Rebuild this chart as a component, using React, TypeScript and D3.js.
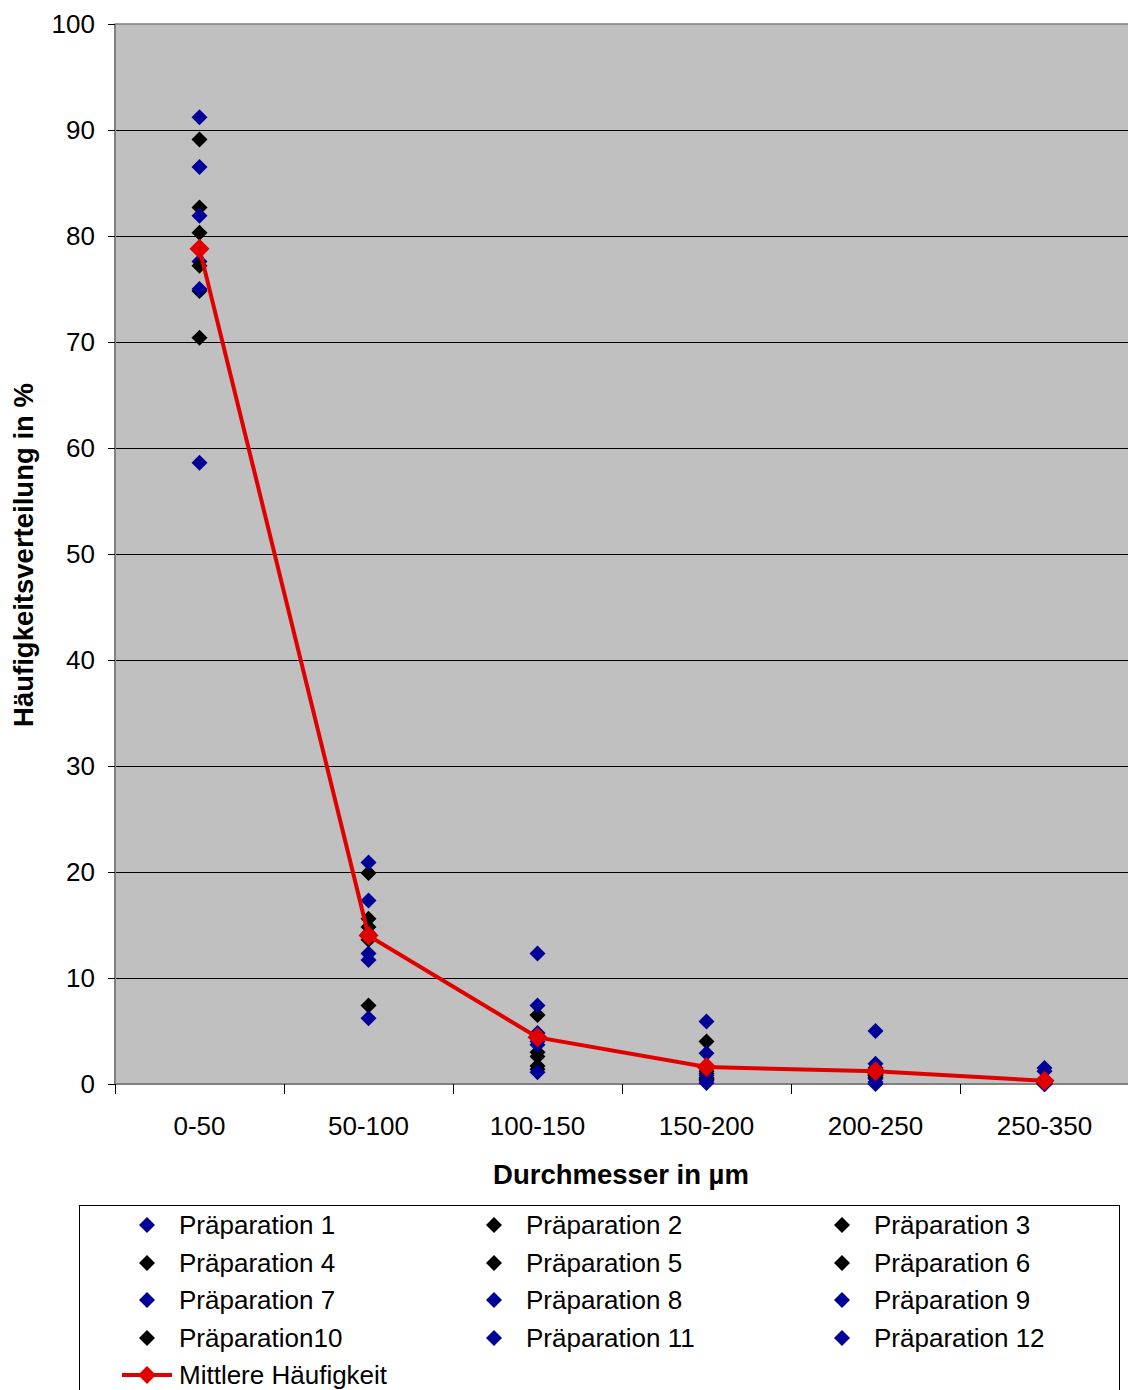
import React from 'react'
import * as d3 from 'd3'

// size classes (µm)
const categories = ['0-50', '50-100', '100-150', '150-200', '200-250', '250-350']
const yTicks = [0, 10, 20, 30, 40, 50, 60, 70, 80, 90, 100]

const BLUE = '#000099'
const BLACK = '#000000'
const RED = '#e00000'

// one array per preparation, values in % per size class
const prep1 = [77.6, 14.1, 4.0, 1.5, 1.0, 0.2]
const prep2 = [89.1, 19.9, 6.5, 4.0, 0.6, 0.2]
const prep3 = [82.7, 15.6, 4.3, 1.2, 1.5, 0.1]
const prep4 = [80.3, 14.8, 3.0, 1.0, 1.2, 0.2]
const prep5 = [77.2, 14.2, 2.6, 0.6, 0.8, 0.1]
const prep6 = [74.8, 13.6, 1.7, 0.5, 0.9, 0.0]
const prep7 = [91.2, 20.9, 12.3, 5.9, 5.0, 1.5]
const prep8 = [86.5, 17.3, 7.4, 2.9, 1.9, 1.2]
const prep9 = [81.9, 12.3, 4.8, 0.8, 0.5, 0.1]
const prep10 = [70.4, 7.4, 1.4, 0.4, 0.8, 0.0]
const prep11 = [75.0, 11.7, 3.7, 0.3, 0.2, 0.0]
const prep12 = [58.6, 6.2, 1.1, 0.1, 0.0, 0.0]
const mean = [78.8, 14.0, 4.4, 1.6, 1.2, 0.3]

const series = [
  { name: 'Präparation 1', color: BLUE, values: prep1 },
  { name: 'Präparation 2', color: BLACK, values: prep2 },
  { name: 'Präparation 3', color: BLACK, values: prep3 },
  { name: 'Präparation 4', color: BLACK, values: prep4 },
  { name: 'Präparation 5', color: BLACK, values: prep5 },
  { name: 'Präparation 6', color: BLACK, values: prep6 },
  { name: 'Präparation 7', color: BLUE, values: prep7 },
  { name: 'Präparation 8', color: BLUE, values: prep8 },
  { name: 'Präparation 9', color: BLUE, values: prep9 },
  { name: 'Präparation10', color: BLACK, values: prep10 },
  { name: 'Präparation 11', color: BLUE, values: prep11 },
  { name: 'Präparation 12', color: BLUE, values: prep12 }
]

const diamond = (r: number) => `M0,${-r}L${r},0L0,${r}L${-r},0Z`

export default function App() {
  const width = 1128
  const height = 1390
  const margin = { top: 24, left: 115, bottom: 1084, right: 1129 }
  const font = 'Arial, "Liberation Sans", sans-serif'

  const x = d3.scaleBand().domain(categories).range([margin.left, margin.right])
  const y = d3.scaleLinear().domain([0, 100]).range([margin.bottom, margin.top])
  const cx = (c: string) => (x(c) as number) + x.bandwidth() / 2
  const py = (v: number) => Math.round(y(v)) + 0.5

  const line = d3.line<number>()
    .x((d, i) => cx(categories[i]))
    .y(d => y(d))

  const legendCols = [147, 494, 842]
  const legendRows = [1225, 1263, 1300, 1338, 1375]

  return (
    <svg width={width} height={height} style={{ position: 'absolute', left: 0, top: 0 }} fontFamily={font}>
      <rect x={margin.left} y={margin.top} width={margin.right - margin.left} height={margin.bottom - margin.top} fill='#c0c0c0' stroke='#808080' strokeWidth={1.5} />
      {yTicks.filter(t => t > 0 && t < 100).map(t => (
        <line key={t} x1={margin.left} x2={margin.right} y1={py(t)} y2={py(t)} stroke='#000' strokeWidth={1} shapeRendering='crispEdges' />
      ))}
      <line x1={margin.left} x2={margin.left} y1={margin.top} y2={margin.bottom} stroke='#808080' strokeWidth={2} />
      <line x1={margin.left} x2={margin.right} y1={margin.bottom} y2={margin.bottom} stroke='#808080' strokeWidth={2} />
      {yTicks.map(t => (
        <g key={t}>
          <line x1={108} x2={margin.left} y1={py(t)} y2={py(t)} stroke='#000' strokeWidth={1} shapeRendering='crispEdges' />
          <text x={95} y={y(t)} dy='0.35em' textAnchor='end' fontSize={26}>{t}</text>
        </g>
      ))}
      {categories.map(c => (
        <g key={c}>
          <line x1={(x(c) as number) + 0.5} x2={(x(c) as number) + 0.5} y1={margin.bottom} y2={margin.bottom + 10} stroke='#000' strokeWidth={1} shapeRendering='crispEdges' />
          <text x={cx(c)} y={1135} textAnchor='middle' fontSize={26}>{c}</text>
        </g>
      ))}
      <text x={621} y={1184} textAnchor='middle' fontSize={27.5} fontWeight='bold'>Durchmesser in µm</text>
      <text transform='translate(33,555) rotate(-90)' textAnchor='middle' fontSize={27.5} fontWeight='bold'>Häufigkeitsverteilung in %</text>

      {series.map(s => (
        <g key={s.name}>
          {s.values.map((v, i) => (
            <path key={i} d={diamond(8)} transform={`translate(${cx(categories[i])},${y(v)})`} fill={s.color} />
          ))}
        </g>
      ))}
      <path d={line(mean) || ''} fill='none' stroke={RED} strokeWidth={4} />
      {mean.map((v, i) => (
        <path key={i} d={diamond(10)} transform={`translate(${cx(categories[i])},${y(v)})`} fill={RED} />
      ))}

      <rect x={79.5} y={1205.5} width={1040} height={200} fill='#fff' stroke='#000' strokeWidth={1} />
      {series.map((s, i) => {
        const lx = legendCols[i % 3]
        const ly = legendRows[Math.floor(i / 3)]
        return (
          <g key={s.name}>
            <path d={diamond(8)} transform={`translate(${lx},${ly})`} fill={s.color} />
            <text x={lx + 32} y={ly} dy='0.35em' fontSize={26}>{s.name}</text>
          </g>
        )
      })}
      <line x1={122} x2={172} y1={legendRows[4]} y2={legendRows[4]} stroke={RED} strokeWidth={4} />
      <path d={diamond(9)} transform={`translate(147,${legendRows[4]})`} fill={RED} />
      <text x={179} y={legendRows[4]} dy='0.35em' fontSize={26}>Mittlere Häufigkeit</text>
    </svg>
  )
}
